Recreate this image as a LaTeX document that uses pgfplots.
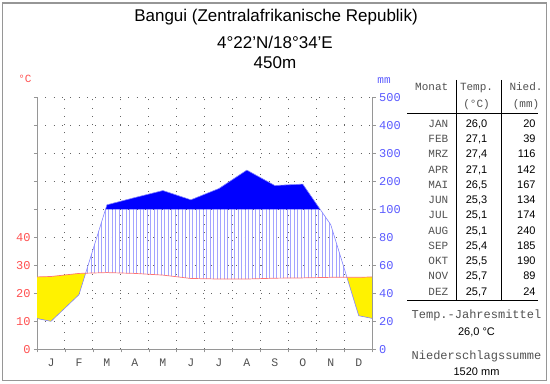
\documentclass[border=0pt]{standalone}
\usepackage{fontspec}
\setmainfont{Liberation Sans}
\setmonofont{Liberation Mono}
\usepackage{pgfplots}
\usepackage{pgfplotstable}
\pgfplotsset{compat=1.18}
\usepgfplotslibrary{fillbetween}
\usetikzlibrary{patterns.meta}
\definecolor{tred}{RGB}{255,80,80}
\definecolor{pblue}{RGB}{90,90,255}
\definecolor{gridgray}{RGB}{100,100,100}
\definecolor{axgray}{RGB}{150,150,150}
\definecolor{txtgray}{RGB}{80,80,80}

% temperature (deg C), month midpoints; edges = mean of Dec/Jan
\pgfplotstableread{
x t
0 25.85
0.5 26.0
1.5 27.1
2.5 27.4
3.5 27.1
4.5 26.5
5.5 25.3
6.5 25.1
7.5 25.1
8.5 25.4
9.5 25.5
10.5 25.7
11.5 25.7
12 25.85
}\temptable
% precipitation (mm); 2.45 and 10.121 = crossings of 100 mm
\pgfplotstableread{
x p
0 22
0.5 20
1.5 39
2.45 100
2.5 116
3.5 142
4.5 167
5.5 134
6.5 174
7.5 240
8.5 185
9.5 190
10.121 100
10.5 89
11.5 24
12 22
}\prectable

\begin{document}
\begin{tikzpicture}[
  mono/.style={font=\ttfamily\fontsize{11bp}{13bp}\selectfont, text=txtgray, inner sep=0pt},
  sans/.style={font=\fontsize{11bp}{13bp}\selectfont, text=black, inner sep=0pt}]
\path (0,0) rectangle (550bp,384bp);
\draw[axgray, line width=1.2bp] (2.5bp,3.5bp) rectangle (546.5bp,381bp);

% titles
\node[font=\fontsize{17bp}{19bp}\selectfont] at (276bp,366.5bp) {Bangui (Zentralafrikanische Republik)};
\node[font=\fontsize{17bp}{19bp}\selectfont] at (275bp,342bp) {4°22'N/18°34'E};
\node[font=\fontsize{17bp}{19bp}\selectfont] at (275bp,321bp) {450m};

\node[mono, text=tred] at (25bp,305bp) {°C};
\node[mono, text=pblue] at (384bp,303bp) {mm};

\begin{axis}[
  at={(37bp,34.7bp)}, anchor=south west, scale only axis,
  width=335.7bp, height=252bp,
  xmin=0, xmax=12, ymin=0, ymax=90,
  axis x line*=bottom, axis y line*=left,
  axis line style={axgray, line width=0.8bp, -},
  xtick={0,...,12}, xticklabels={,,,,,,,,,,,,},
  extra x ticks={0.5,1.5,...,11.5},
  extra x tick labels={J,F,M,A,M,J,J,A,S,O,N,D},
  extra x tick style={major tick length=0pt, grid=none,
     xticklabel style={font=\ttfamily\fontsize{11.5bp}{13bp}\selectfont, text=txtgray, yshift=-6bp}},
  ytick={0,10,...,90}, yticklabels={0,10,20,30,40,,,,,},
  tick align=outside, major tick length=3bp,
  tick style={axgray, line width=0.8bp},
  grid=major, major grid style={gridgray, line width=1bp, dash pattern=on 1bp off 7.3bp},
  yticklabel style={text=tred, font=\ttfamily\fontsize{12bp}{13bp}\selectfont},
  /pgf/number format/assume math mode=true,
]
\addplot[name path=T, draw=none] table[x=x, y=t] {\temptable};
\addplot[name path=P, draw=none] table[x=x, y expr={\thisrow{p}<=100 ? \thisrow{p}/2 : 50+(\thisrow{p}-100)/10}] {\prectable};
\addplot[name path=Pc, draw=none] table[x=x, y expr={min(\thisrow{p},100)/2}] {\prectable};
\addplot[yellow] fill between[of=T and Pc, split,
   every segment no 1/.style={pattern={Lines[angle=90, distance=3.5bp, line width=0.5bp]}, pattern color=pblue!55}];
\addplot[blue] fill between[of=P and Pc, soft clip={domain=2.45:10.121}];
\addplot[pblue!75, line width=0.6bp] table[x=x, y expr={\thisrow{p}<=100 ? \thisrow{p}/2 : 50+(\thisrow{p}-100)/10}] {\prectable};
\addplot[tred!80, line width=0.7bp] table[x=x, y=t] {\temptable};
\end{axis}

\begin{axis}[
  at={(37bp,34.7bp)}, anchor=south west, scale only axis,
  width=335.7bp, height=252bp,
  xmin=0, xmax=12, ymin=0, ymax=90,
  axis x line=none, axis y line*=right,
  axis line style={axgray, line width=0.8bp, -},
  ytick={0,10,...,90}, yticklabels={0,20,40,60,80,100,200,300,400,500},
  tick align=outside, major tick length=3bp,
  tick style={axgray, line width=0.8bp},
  yticklabel style={text=pblue, font=\ttfamily\fontsize{12bp}{13bp}\selectfont},
]
\addplot[draw=none] coordinates {(0,0) (12,90)};
\end{axis}

% table lines
\draw[black, line width=0.8bp] (456.7bp,304bp) -- (456.7bp,83.3bp);
\draw[black, line width=0.8bp] (501.7bp,304bp) -- (501.7bp,83.3bp);
\draw[black, line width=0.8bp] (407bp,270.7bp) -- (538bp,270.7bp);
\draw[black, line width=0.8bp] (407bp,83.3bp) -- (538bp,83.3bp);

% header
\node[mono, anchor=base] at (431.7bp,293.5bp) {Monat};
\node[mono, anchor=base] at (476.5bp,293.5bp) {Temp.};
\node[mono, anchor=base] at (476.5bp,276.8bp) {(°C)};
\node[mono, anchor=base] at (526bp,293.5bp) {Nied.};
\node[mono, anchor=base] at (526bp,276.8bp) {(mm)};

% rows
\foreach \m/\t/\p [count=\i from 0] in {JAN/26{,}0/20, FEB/27{,}1/39, MRZ/27{,}4/116, APR/27{,}1/142, MAI/26{,}5/167, JUN/25{,}3/134, JUL/25{,}1/174, AUG/25{,}1/240, SEP/25{,}4/185, OKT/25{,}5/190, NOV/25{,}7/89, DEZ/25{,}7/24}{
  \pgfmathsetmacro{\yy}{256.7-15.27*\i}
  \node[mono, anchor=base] at (438.3bp,\yy bp) {\m};
  \node[sans, anchor=base] at (476.5bp,\yy bp) {\t};
  \node[sans, anchor=base east] at (535.7bp,\yy bp) {\p};
}

% footer
\node[mono, font=\ttfamily\fontsize{12bp}{14bp}\selectfont, anchor=base] at (476.5bp,65bp) {Temp.-Jahresmittel};
\node[sans, anchor=base] at (476.5bp,48.3bp) {26,0 °C};
\node[mono, font=\ttfamily\fontsize{12bp}{14bp}\selectfont, anchor=base] at (476.5bp,24.3bp) {Niederschlagssumme};
\node[sans, anchor=base] at (476.5bp,8.3bp) {1520 mm};
\end{tikzpicture}
\end{document}
